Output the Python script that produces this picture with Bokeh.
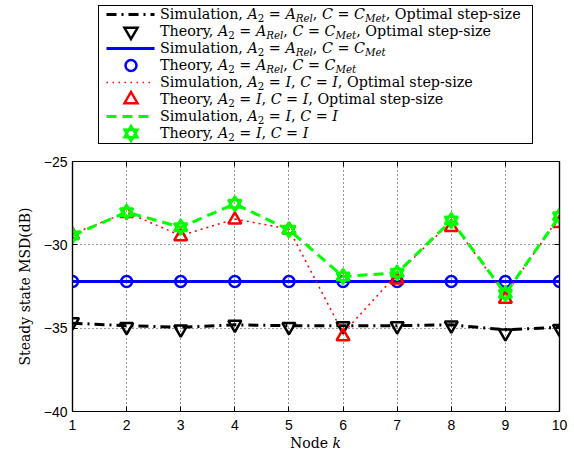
from bokeh.plotting import figure
from bokeh.models import Div, FixedTicker, LinearAxis, Range1d
from bokeh.layouts import column
from bokeh.embed import file_html
from bokeh.resources import INLINE

# ---------------- data ----------------
nodes = [1, 2, 3, 4, 5, 6, 7, 8, 9, 10]
sim_rel_met_opt = [-34.70, -34.85, -34.95, -34.80, -34.85, -34.85, -34.85, -34.80, -35.10, -34.95]
th_rel_met_opt = [-34.63, -34.92, -35.07, -34.78, -34.92, -34.87, -34.87, -34.83, -35.30, -35.03]
sim_rel_met = [-32.20, -32.20, -32.20, -32.20, -32.20, -32.20, -32.20, -32.20, -32.20, -32.20]
th_rel_met = [-32.20, -32.20, -32.20, -32.20, -32.20, -32.20, -32.20, -32.20, -32.20, -32.20]
sim_id_opt = [-29.35, -28.05, -29.45, -28.45, -29.05, -35.30, -31.75, -28.60, -33.00, -28.30]
th_id_opt = [-29.40, -28.10, -29.50, -28.50, -29.10, -35.50, -32.10, -28.95, -33.25, -28.70]
sim_id = [-29.44, -28.04, -28.94, -27.54, -29.10, -31.90, -31.68, -28.54, -32.94, -28.28]
th_id = [-29.44, -28.04, -28.94, -27.54, -29.10, -31.90, -31.68, -28.54, -32.94, -28.28]

y_ticks = [-40, -35, -30, -25]
y_tick_labels = ["\u221240", "\u221235", "\u221230", "\u221225"]
x_tick_labels = ["1", "2", "3", "4", "5", "6", "7", "8", "9", "10"]

SERIF = "DejaVu Serif"
SANS = "Liberation Sans"

# ---------------- figure ----------------
p = figure(width=574, height=285, x_range=Range1d(1, 10), y_range=Range1d(-40, -25),
           output_backend="svg", toolbar_location=None,
           min_border_left=72, min_border_right=15, min_border_top=11, min_border_bottom=24)
p.background_fill_color = "white"
p.border_fill_color = "white"
p.outline_line_color = "black"
p.outline_line_width = 1.2

xt = FixedTicker(ticks=nodes)
yt = FixedTicker(ticks=y_ticks)

def style_axis(ax, show_labels=True):
    ax.axis_line_color = "black"
    ax.axis_line_width = 1.2
    ax.major_tick_in = 5
    ax.major_tick_out = 0
    ax.major_tick_line_color = "black"
    ax.major_tick_line_width = 1
    ax.minor_tick_line_color = None
    ax.major_label_text_font = SANS
    ax.major_label_text_font_size = "14px"
    ax.major_label_text_color = "#000000" if show_labels else None

xa = p.xaxis[0]
xa.ticker = xt
xa.major_label_overrides = {n: s for n, s in zip(nodes, x_tick_labels)}
style_axis(xa)
xa.major_label_standoff = 8

ya = p.yaxis[0]
ya.ticker = yt
ya.major_label_overrides = {t: s for t, s in zip(y_ticks, y_tick_labels)}
style_axis(ya)
ya.major_label_standoff = 5
ya.axis_label = "Steady state MSD(dB)"
ya.axis_label_text_font = SERIF
ya.axis_label_text_font_size = "14px"
ya.axis_label_text_font_style = "normal"
ya.axis_label_text_color = "#000000"
ya.axis_label_standoff = 8

top = LinearAxis(ticker=FixedTicker(ticks=nodes))
style_axis(top, show_labels=False)
top.major_label_standoff = 0
p.add_layout(top, "above")
right = LinearAxis(ticker=FixedTicker(ticks=y_ticks))
style_axis(right, show_labels=False)
right.major_label_standoff = 0
p.add_layout(right, "right")

for g, t in ((p.xgrid[0], xt), (p.ygrid[0], yt)):
    g.ticker = t
    g.grid_line_color = "#333333"
    g.grid_line_width = 1
    g.grid_line_dash = "1 3"

BLACK, BLUE, RED, GREEN = "#000000", "#0000ff", "#ff0000", "#00ff00"

# 1. Simulation A_Rel, C_Met, optimal
p.line(nodes, sim_rel_met_opt, line_color=BLACK, line_width=3, line_dash="10 5 2 5")
# 2. Theory
p.scatter(nodes, th_rel_met_opt, marker="inverted_triangle", size=13, fill_color=None,
          line_color=BLACK, line_width=2.5)
# 3. Simulation A_Rel, C_Met
p.line(nodes, sim_rel_met, line_color=BLUE, line_width=3)
# 4. Theory
p.scatter(nodes, th_rel_met, marker="circle", size=11, fill_color=None,
          line_color=BLUE, line_width=2.5)
# 5. Simulation I, I, optimal
p.line(nodes, sim_id_opt, line_color=RED, line_width=1.5, line_dash="2 4")
# 6. Theory
p.scatter(nodes, th_id_opt, marker="triangle", size=13, fill_color=None,
          line_color=RED, line_width=2.5)
# 7. Simulation I, I
p.line(nodes, sim_id, line_color=GREEN, line_width=3, line_dash="10 6")
# 8. Theory (hexagram = triangle + inverted triangle)
p.scatter(nodes, th_id, marker="triangle", size=13, fill_color=None,
          line_color=GREEN, line_width=2.5)
p.scatter(nodes, th_id, marker="inverted_triangle", size=13, fill_color=None,
          line_color=GREEN, line_width=2.5)

# ---------------- legend (HTML, for sub-/italic math) ----------------
def sub(s):
    return f"<sub style='font-size:72%;vertical-align:-0.32em;line-height:0'>{s}</sub>"

lab_rel = f"<i>A</i>{sub('2')} = <i>A</i>{sub('<i>Rel</i>')}, <i>C</i> = <i>C</i>{sub('<i>Met</i>')}"
lab_id = f"<i>A</i>{sub('2')} = <i>I</i>, <i>C</i> = <i>I</i>"
legend_labels = [
    "Simulation, " + lab_rel + ", Optimal step-size",
    "Theory, " + lab_rel + ", Optimal step-size",
    "Simulation, " + lab_rel,
    "Theory, " + lab_rel,
    "Simulation, " + lab_id + ", Optimal step-size",
    "Theory, " + lab_id + ", Optimal step-size",
    "Simulation, " + lab_id,
    "Theory, " + lab_id,
]
legend_styles = [
    ("line", BLACK, 3, "10 5 2 5"),
    ("inverted_triangle", BLACK, 2.5, None),
    ("line", BLUE, 3, None),
    ("circle", BLUE, 2.5, None),
    ("line", RED, 1.5, "1.5 4.5"),
    ("triangle", RED, 2.5, None),
    ("line", GREEN, 3, "10 6"),
    ("hexagram", GREEN, 2.5, None),
]

def tri(cx, cy, s, up):
    r = s / 2.0
    h = r * 3 ** 0.5
    a = h / 3.0
    if up:
        pts = [(cx - r, cy + a), (cx + r, cy + a), (cx, cy + a - h)]
    else:
        pts = [(cx - r, cy - a), (cx + r, cy - a), (cx, cy - a + h)]
    return " ".join(f"{x:.2f},{y:.2f}" for x, y in pts)

def symbol_svg(kind, color, lw, dash):
    cx, cy = 32.0, 8.5
    if kind == "line":
        da = f" stroke-dasharray='{dash}'" if dash else ""
        body = f"<line x1='7.5' y1='{cy}' x2='55.5' y2='{cy}' stroke='{color}' stroke-width='{lw}'{da}/>"
    elif kind == "circle":
        body = f"<circle cx='{cx}' cy='{cy}' r='5.5' fill='none' stroke='{color}' stroke-width='{lw}'/>"
    elif kind == "triangle":
        body = f"<polygon points='{tri(cx, cy, 13, True)}' fill='none' stroke='{color}' stroke-width='{lw}'/>"
    elif kind == "inverted_triangle":
        body = f"<polygon points='{tri(cx, cy, 13, False)}' fill='none' stroke='{color}' stroke-width='{lw}'/>"
    else:
        body = (f"<polygon points='{tri(cx, cy, 13, True)}' fill='none' stroke='{color}' stroke-width='{lw}'/>"
                f"<polygon points='{tri(cx, cy, 13, False)}' fill='none' stroke='{color}' stroke-width='{lw}'/>")
    return (f"<svg width='60' height='17' style='position:absolute;left:0;top:0;overflow:visible'>"
            f"{body}</svg>")

rows = []
for i, (lab, sty) in enumerate(zip(legend_labels, legend_styles)):
    rows.append(
        f"<div style='position:absolute;left:0;top:{17 * i}px;width:430px;height:17px;'>"
        f"{symbol_svg(*sty)}"
        f"<div style='position:absolute;left:61px;top:0;height:17px;line-height:17px;"
        f"white-space:nowrap;color:#000;'>{lab}</div></div>"
    )

legend_html = (
    "<div style='position:relative;width:574px;height:150px;background:#fff;'>"
    f"<div style='position:absolute;left:98px;top:5px;width:435px;height:139px;box-sizing:border-box;"
    f"border:1.5px solid #000;background:#fff;font-family:\"{SERIF}\";font-size:14.3px;'>"
    + "".join(rows) +
    "</div></div>"
)
legend_div = Div(text=legend_html, width=574, height=150, margin=(0, 0, 0, 0))

# x-axis title "Node k" (italic k), centred under the plot frame
xlabel_html = (
    "<div style='position:relative;width:574px;height:21px;background:#fff;'>"
    f"<div style='position:absolute;left:72px;width:487px;top:0;height:17px;line-height:17px;"
    f"text-align:center;font-family:\"{SERIF}\";font-size:14px;color:#000;'>Node <i>k</i></div></div>"
)
xlabel_div = Div(text=xlabel_html, width=574, height=21, margin=(0, 0, 0, 0))

layout = column(legend_div, p, xlabel_div, spacing=0)
open("out.html", "w").write(file_html(layout, INLINE))
